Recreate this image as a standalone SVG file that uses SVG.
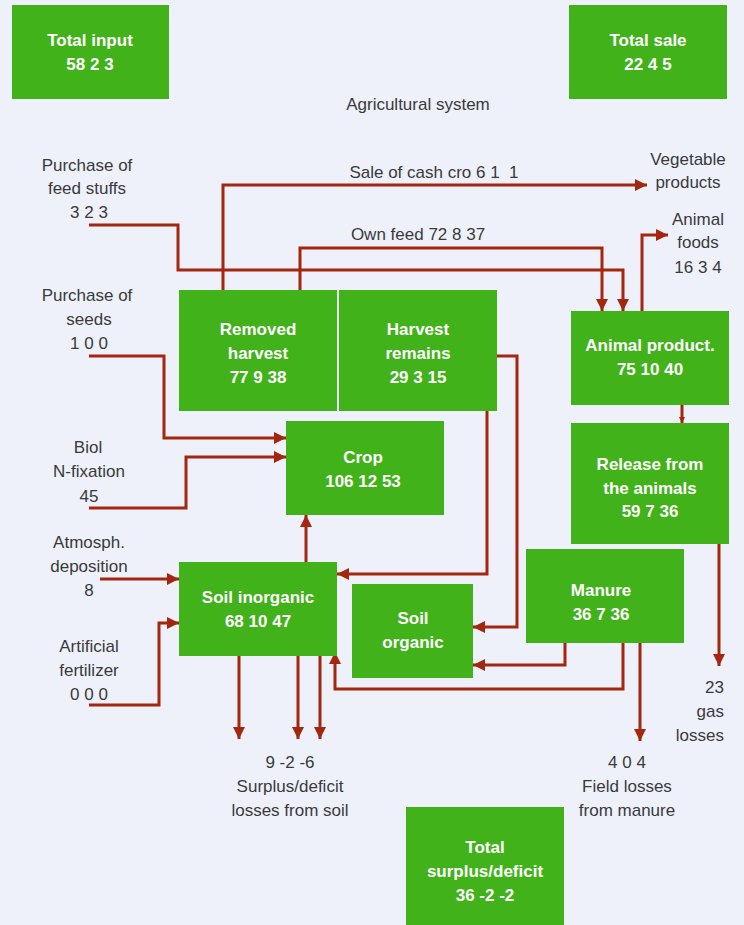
<svg xmlns="http://www.w3.org/2000/svg" width="744" height="925" viewBox="0 0 744 925">
<defs>
<style>
.box{fill:#41B219}
.bt{font-family:"Liberation Sans",Arial,sans-serif;font-weight:bold;font-size:17px;fill:#fff;text-anchor:middle}
.lb{font-family:"Liberation Sans",Arial,sans-serif;font-size:17px;fill:#3a3a3a;text-anchor:middle}
.ln{fill:none;stroke:#A3260F;stroke-width:3;stroke-linejoin:miter}
.arr{marker-end:url(#ah)}
</style>
<marker id="ah" viewBox="0 0 12 12" refX="12" refY="6" markerWidth="12" markerHeight="12" markerUnits="userSpaceOnUse" orient="auto">
<path d="M0,0 L12,6 L0,12 z" fill="#A3260F"/>
</marker>
<marker id="ahs" viewBox="0 0 6 6" refX="6" refY="3" markerWidth="6" markerHeight="6" markerUnits="userSpaceOnUse" orient="auto">
<path d="M0,0 L6,3 L0,6 z" fill="#A3260F"/>
</marker>
</defs>
<rect width="744" height="925" fill="#EEF1FA"/>

<g id="connectors">
<path class="ln arr" d="M89,225 H178 V270 H623 V311"/>
<path class="ln arr" d="M223,290 V185 H647"/>
<path class="ln arr" d="M300,290 V248 H602 V311"/>
<path class="ln arr" d="M642,311 V235 H668"/>
<path class="ln" d="M682,405 V423" style="marker-end:url(#ahs)"/>
<path class="ln arr" d="M89,356 H164 V438 H286"/>
<path class="ln arr" d="M89,508 H186 V457 H286"/>
<path class="ln arr" d="M100,579 H179"/>
<path class="ln arr" d="M89,705 H159 V623 H179"/>
<path class="ln arr" d="M306,562 V515"/>
<path class="ln arr" d="M487,411 V574 H337"/>
<path class="ln arr" d="M497,356 H517 V627 H473"/>
<path class="ln arr" d="M565,643 V665 H473"/>
<path class="ln arr" d="M623,643 V689 H335 V652"/>
<path class="ln arr" d="M640,643 V741"/>
<path class="ln arr" d="M719,544 V666"/>
<path class="ln arr" d="M239,656 V739"/>
<path class="ln arr" d="M298,656 V739"/>
<path class="ln arr" d="M320,656 V739"/>
</g>

<g id="total-input"><rect class="box" x="12" y="5" width="157" height="94"/>
<text class="bt" x="90" y="46">Total input</text><text class="bt" x="90" y="70">58 2 3</text></g>
<g id="total-sale"><rect class="box" x="569" y="5" width="158" height="94"/>
<text class="bt" x="648" y="46">Total sale</text><text class="bt" x="648" y="70">22 4 5</text></g>
<g id="agri-title"><text class="lb" x="418" y="110">Agricultural system</text></g>

<g id="removed-harvest"><rect class="box" x="179" y="290" width="158" height="121"/>
<text class="bt" x="258" y="335">Removed</text><text class="bt" x="258" y="359">harvest</text><text class="bt" x="258" y="383">77 9 38</text></g>
<g id="harvest-remains"><rect class="box" x="339" y="290" width="158" height="121"/>
<text class="bt" x="418" y="335">Harvest</text><text class="bt" x="418" y="359">remains</text><text class="bt" x="418" y="383">29 3 15</text></g>
<g id="crop"><rect class="box" x="286" y="421" width="158" height="94"/>
<text class="bt" x="363" y="463">Crop</text><text class="bt" x="363" y="487">106 12 53</text></g>
<g id="animal-product"><rect class="box" x="571" y="311" width="158" height="94"/>
<text class="bt" x="650" y="351">Animal product.</text><text class="bt" x="650" y="375">75 10 40</text></g>
<g id="release"><rect class="box" x="571" y="423" width="158" height="121"/>
<text class="bt" x="650" y="470">Release from</text><text class="bt" x="650" y="494">the animals</text><text class="bt" x="650" y="517">59 7 36</text></g>
<g id="manure"><rect class="box" x="526" y="549" width="158" height="94"/>
<text class="bt" x="601" y="596">Manure</text><text class="bt" x="601" y="620">36 7 36</text></g>
<g id="soil-organic"><rect class="box" x="352" y="584" width="121" height="94"/>
<text class="bt" x="413" y="624">Soil</text><text class="bt" x="413" y="648">organic</text></g>
<g id="soil-inorganic"><rect class="box" x="179" y="562" width="158" height="94"/>
<text class="bt" x="258" y="603">Soil inorganic</text><text class="bt" x="258" y="627">68 10 47</text></g>
<g id="total-surplus"><rect class="box" x="406" y="807" width="158" height="118"/>
<text class="bt" x="485" y="853">Total</text><text class="bt" x="485" y="877">surplus/deficit</text><text class="bt" x="485" y="901">36 -2 -2</text></g>

<g id="feed-stuffs"><text class="lb" x="87" y="171">Purchase of</text><text class="lb" x="87" y="194">feed stuffs</text><text class="lb" x="89" y="218">3 2 3</text></g>
<g id="seeds"><text class="lb" x="87" y="301">Purchase of</text><text class="lb" x="89" y="325">seeds</text><text class="lb" x="89" y="349">1 0 0</text></g>
<g id="biol"><text class="lb" x="88" y="453">Biol</text><text class="lb" x="89" y="477">N-fixation</text><text class="lb" x="89" y="502">45</text></g>
<g id="atmosph"><text class="lb" x="89" y="548">Atmosph.</text><text class="lb" x="89" y="572">deposition</text><text class="lb" x="89" y="596">8</text></g>
<g id="artificial"><text class="lb" x="89" y="652">Artificial</text><text class="lb" x="89" y="676">fertilizer</text><text class="lb" x="89" y="700">0 0 0</text></g>
<g id="cash-crop-label"><text class="lb" x="434" y="178" xml:space="preserve">Sale of cash cro 6 1  1</text></g>
<g id="own-feed-label"><text class="lb" x="418" y="240">Own feed 72 8 37</text></g>
<g id="vegetable"><text class="lb" x="688" y="165">Vegetable</text><text class="lb" x="688" y="188">products</text></g>
<g id="animal-foods"><text class="lb" x="698" y="225">Animal</text><text class="lb" x="698" y="248">foods</text><text class="lb" x="698" y="273">16 3 4</text></g>
<g id="soil-losses"><text class="lb" x="290" y="768">9 -2 -6</text><text class="lb" x="290" y="792">Surplus/deficit</text><text class="lb" x="290" y="816">losses from soil</text></g>
<g id="field-losses"><text class="lb" x="627" y="768">4 0 4</text><text class="lb" x="627" y="792">Field losses</text><text class="lb" x="627" y="816">from manure</text></g>
<g id="gas-losses"><text class="lb" x="724" y="693" style="text-anchor:end">23</text><text class="lb" x="724" y="717" style="text-anchor:end">gas</text><text class="lb" x="724" y="741" style="text-anchor:end">losses</text></g>
</svg>
